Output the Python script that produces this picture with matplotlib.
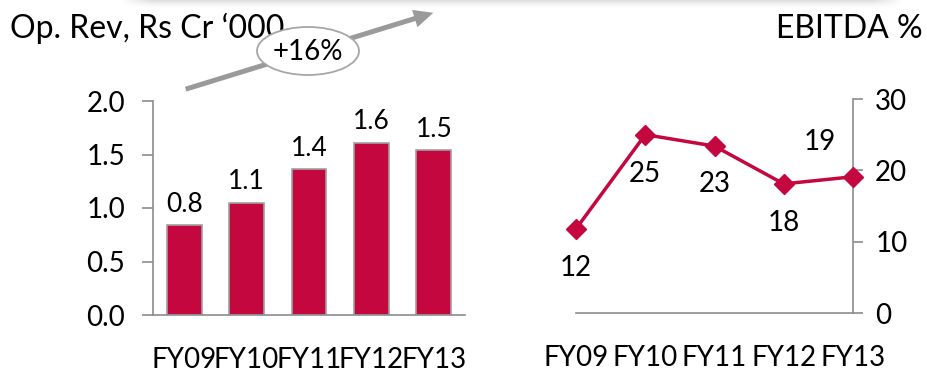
import numpy as np
import matplotlib
matplotlib.use("Agg")
import matplotlib.pyplot as plt
from matplotlib.patches import Ellipse, FancyArrowPatch

plt.rcParams['font.family'] = ['Lato', 'DejaVu Sans']

years = ['FY09', 'FY10', 'FY11', 'FY12', 'FY13']
op_rev = [0.84, 1.05, 1.36, 1.61, 1.54]     # Rs Cr '000
ebitda_pct = [11.8, 25.0, 23.4, 18.1, 19.1]  # %
growth_label = '+16%'

RED = '#C5073F'
GREY = '#8C8C8C'

W, H = 927, 375
fig = plt.figure(figsize=(W / 100, H / 100), dpi=100)

# revenue bars
ax1 = fig.add_axes([153 / W, 1 - 315 / H, 312 / W, 214 / H])
x = np.arange(len(years))
bars = ax1.bar(x, op_rev, width=0.56, color=RED, edgecolor='#A0A0A0', linewidth=1.2)
for xi, v in zip(x, op_rev):
    ax1.annotate(f'{v:.1f}', (xi, v), xytext=(0, 6), textcoords='offset points',
                 ha='center', va='bottom', fontsize=19)
ax1.set_xlim(-0.5, 4.5)
ax1.set_ylim(0, 2.0)
ax1.set_yticks([0, 0.5, 1.0, 1.5, 2.0])
ax1.yaxis.set_major_formatter(matplotlib.ticker.FormatStrFormatter('%.1f'))
ax1.set_xticks(x)
ax1.set_xticklabels(years)
for s in ['top', 'right']:
    ax1.spines[s].set_visible(False)
for s in ['left', 'bottom']:
    ax1.spines[s].set_color(GREY)
    ax1.spines[s].set_linewidth(1.2)
ax1.tick_params(axis='y', length=8, width=1.2, color=GREY, pad=12, labelsize=20)
ax1.tick_params(axis='x', length=0, pad=23, labelsize=20)

# EBITDA margin line
ax2 = fig.add_axes([576 / W, 1 - 313 / H, 277 / W, 214 / H])
ax2.plot(x, ebitda_pct, color=RED, linewidth=2.5, marker='D', markersize=10,
         clip_on=False, zorder=3)
offsets = [(0, -28), (0, -28), (0, -27), (0, -28), (-24, 25)]
for xi, v, off in zip(x, ebitda_pct, offsets):
    ax2.annotate(f'{v:.0f}', (xi, v), xytext=off, textcoords='offset points',
                 ha='center', va='center', fontsize=20)
ax2.set_xlim(0, 4)
ax2.set_ylim(0, 30)
ax2.set_yticks([0, 10, 20, 30])
ax2.set_xticks(x)
ax2.set_xticklabels(years)
ax2.yaxis.tick_right()
for s in ['top', 'left']:
    ax2.spines[s].set_visible(False)
for s in ['right', 'bottom']:
    ax2.spines[s].set_color(GREY)
    ax2.spines[s].set_linewidth(1.2)
ax2.tick_params(axis='y', length=7, width=1.2, color=GREY, pad=9, labelsize=20)
ax2.tick_params(axis='x', length=0, pad=23, labelsize=20)

# overlay in pixel units for titles, growth arrow and the box shadow
ov = fig.add_axes([0, 0, 1, 1], zorder=5)
ov.set_xlim(0, W)
ov.set_ylim(H, 0)
ov.axis('off')

gy = np.linspace(0, 1, 20)[:, None]
gx = np.linspace(0, 1, 400)[None, :]
fade_x = np.clip(np.minimum(gx, 1 - gx) / 0.04, 0, 1)
alpha = 0.30 * (1 - gy) ** 1.6 * fade_x
shade = np.zeros((20, 400, 4))
shade[..., :3] = 0.55
shade[..., 3] = alpha
ov.imshow(shade, extent=(120, 905, 9, 0), aspect='auto', interpolation='bilinear', zorder=0)

ov.text(10, 38, 'Op. Rev, Rs Cr \u2018000', fontsize=23, va='baseline', ha='left', zorder=1)
ov.text(923, 38, 'EBITDA %', fontsize=23, va='baseline', ha='right', zorder=1)

arrow = FancyArrowPatch((183, 90), (436, 12),
                        arrowstyle='simple,head_length=14,head_width=13,tail_width=3.6',
                        mutation_scale=1, color='#9A9A9A', linewidth=0, zorder=2)
ov.add_patch(arrow)
ov.add_patch(Ellipse((308, 51), 102, 48, facecolor='white', edgecolor='#A6A6A6',
                     linewidth=1.3, zorder=3))
ov.text(308, 52, growth_label, fontsize=20, ha='center', va='center', zorder=4)

fig.savefig('out.png', dpi=100)
